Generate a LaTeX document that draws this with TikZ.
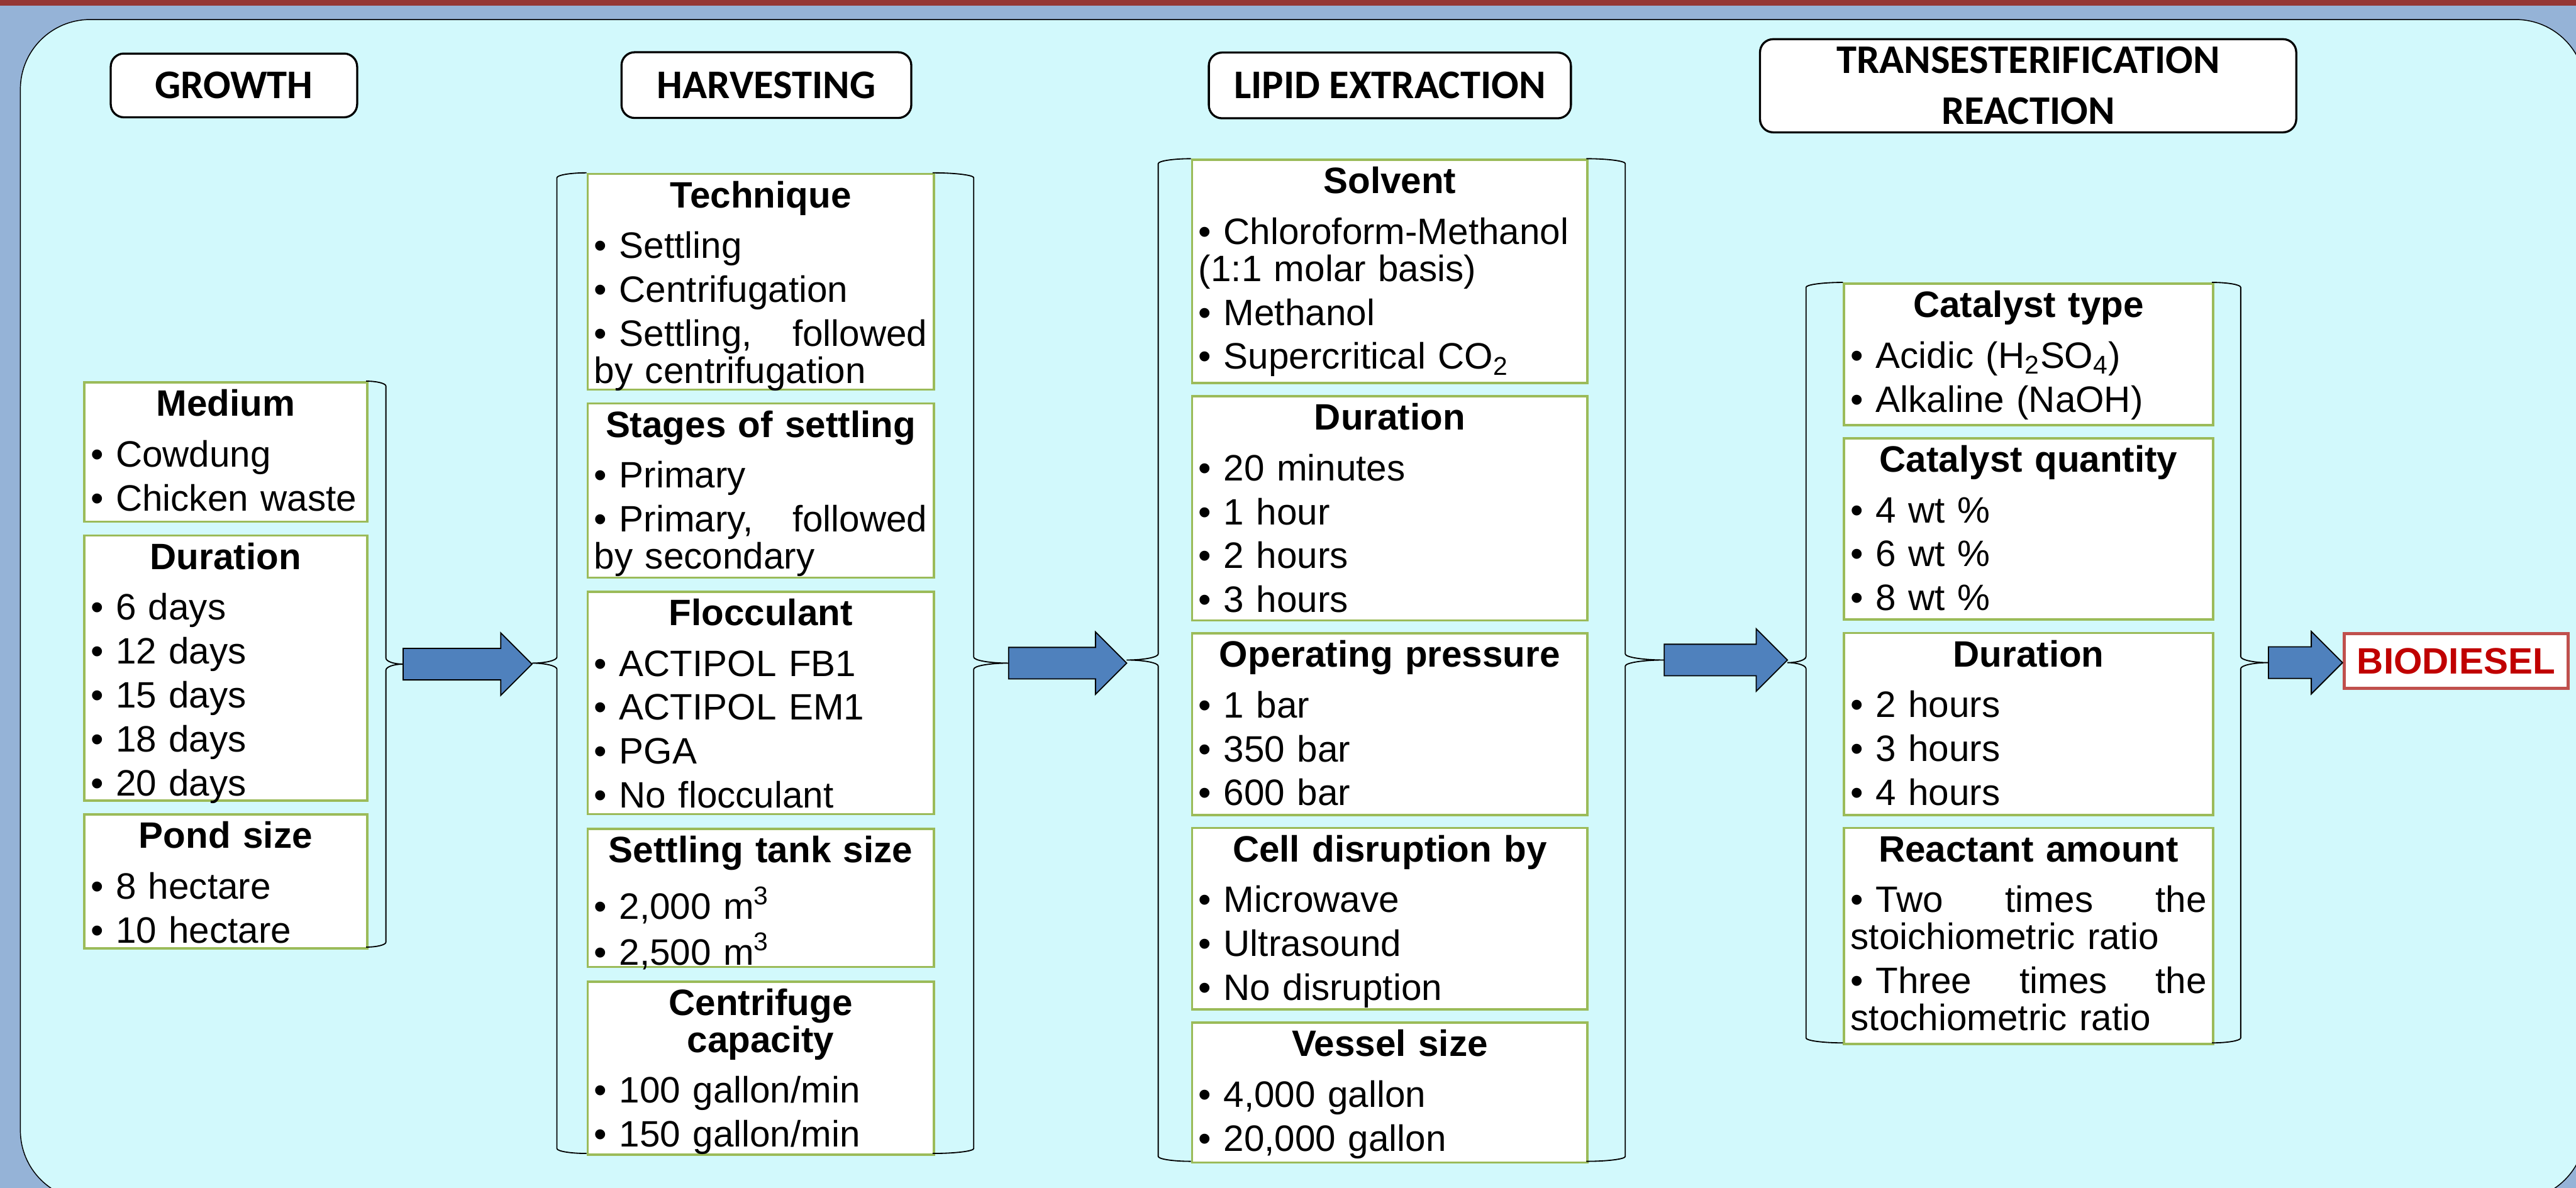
\documentclass[tikz,border=0pt]{standalone}
\usepackage{fontspec}
\setmainfont{Liberation Sans}
\newfontfamily\calibri{Carlito}
\usetikzlibrary{calc}
\definecolor{granate}{HTML}{953735}
\definecolor{azulfondo}{HTML}{95B3D7}
\definecolor{cian}{HTML}{D2F9FC}
\definecolor{verde}{HTML}{9BBB59}
\definecolor{azulflecha}{HTML}{4F81BD}
\definecolor{rojoborde}{HTML}{C0504D}
\definecolor{rojotexto}{HTML}{C00000}
\newcommand{\cuerpo}{\fontsize{15.9}{16}\selectfont}
\newcommand{\cabecera}{\calibri\bfseries\fontsize{17.6}{22}\selectfont}
\newcommand{\tit}[1]{\makebox[\linewidth]{\bfseries #1}}
% block arrow from coordinate #1 to the x of #2
\newcommand{\flecha}[2]{%
  \draw[bloque] ($(#1)+(0,-9.6)$) -- ($(#2|-#1)+(-19,-9.6)$) -- ($(#2|-#1)+(-19,-19)$) -- (#2|-#1)
    -- ($(#2|-#1)+(-19,19)$) -- ($(#2|-#1)+(-19,9.6)$) -- ($(#1)+(0,9.6)$) -- cycle;}
% brace: box edge x, line x, tip x, top y, bottom y, tip name
\newcommand{\llave}[6]{%
  \coordinate (#6) at (#3,{(#4+#5)/2});
  \draw[trazo] (#1,#4) .. controls ({#2+0.45*(#1-#2)},#4) and (#2,{#4+1.4}) .. (#2,{#4+3})
    -- (#2,{(#4+#5)/2-3.7}) .. controls (#2,{(#4+#5)/2-1.7}) and ({#2+0.45*(#3-#2)},{(#4+#5)/2}) .. (#6)
    .. controls ({#2+0.45*(#3-#2)},{(#4+#5)/2}) and (#2,{(#4+#5)/2+1.7}) .. (#2,{(#4+#5)/2+3.7})
    -- (#2,{#5-3}) .. controls (#2,{#5-1.4}) and ({#2+0.45*(#1-#2)},#5) .. (#1,#5);}
\tikzset{
  fase/.style={rectangle, rounded corners=2mm, draw=black, line width=0.9pt, fill=white,
               font=\cabecera, align=center},
  caja/.style={rectangle, anchor=north west, draw=verde, line width=1pt, fill=white, font=\cuerpo,
               align=left, inner xsep=1mm, inner ysep=0pt, text height=5.125mm},
  cajacre/.style={caja, text width=41.075mm},
  cajacos/.style={caja, text width=50.675mm},
  cajaext/.style={caja, text width=58.175mm},
  cajatra/.style={caja, text width=54.15mm},
  producto/.style={rectangle, draw=rojoborde, line width=1.3pt, fill=white, text=rojotexto,
                   font=\cuerpo\bfseries},
  trazo/.style={draw=black, line width=0.5pt},
  bloque/.style={fill=azulflecha, draw=black, line width=0.5pt, line join=miter}
}

\begin{document}
\begin{tikzpicture}[x=0.25mm, y=-0.25mm]
  \useasboundingbox (0,0) rectangle (1568,723);
  \fill[azulfondo] (0,0) rectangle (1568,723);
  \fill[granate] (0,0) rectangle (1568,3.4);
  \draw[fill=cian, line width=0.4pt, rounded corners=10.6mm] (12.4,11.9) rectangle (1573.7,730.5);

  \node (crec) [fase, minimum width=37.5mm, minimum height=9.7mm] at (142.4,52) {GROWTH};
  \node (cose) [fase, minimum width=44.1mm, minimum height=10mm] at (466.5,51.8) {HARVESTING};
  \node (extr) [fase, minimum width=55.1mm, minimum height=10mm] at (846,52) {LIPID EXTRACTION};
  \node (tran) [fase, minimum width=81.6mm, minimum height=14mm] at (1234.5,52.2) {TRANSESTERIFICATION\\REACTION};

  \node (medio) [cajacre, text depth=16.075mm] at (50.5,232) {\tit{Medium}\\[6pt] • Cowdung\\[3pt] • Chicken waste};
  \node (durcre) [cajacre, text depth=35.175mm] at (50.5,325.3) {\tit{Duration}\\[6pt] • 6 days\\[3pt] • 12 days\\[3pt] • 15 days\\[3pt] • 18 days\\[3pt] • 20 days};
  \node (estanque) [cajacre, text depth=15.25mm] at (50.5,495) {\tit{Pond size}\\[6pt] • 8 hectare\\[3pt] • 10 hectare};

  \node (tecnica) [cajacos, text depth=27.675mm] at (357,105.2) {\tit{Technique}\\[6pt] • Settling\\[3pt] • Centrifugation\\[3pt] • Settling,\hfill followed\\ by centrifugation};
  \node (etapas) [cajacos, text depth=21.375mm] at (357,244.9) {\tit{Stages of settling}\\[6pt] • Primary\\[3pt] • Primary,\hfill followed\\ by secondary};
  \node (floculante) [cajacos, text depth=28.725mm] at (357,359.4) {\tit{Flocculant}\\[6pt] • ACTIPOL FB1\\[3pt] • ACTIPOL EM1\\[3pt] • PGA\\[3pt] • No flocculant};
  \node (tanque) [cajacos, text depth=15.9mm] at (357,503.8) {\tit{Settling tank size}\\[6pt] • 2,000 m\textsuperscript{3}\\[3pt] • 2,500 m\textsuperscript{3}};
  \node (centrifuga) [cajacos, text depth=21.2mm] at (357,596.8) {\tit{Centrifuge}\\ \tit{capacity}\\[6pt] • 100 gallon/min\\[3pt] • 150 gallon/min};

  \node (solvente) [cajaext, text depth=28.825mm] at (724.9,96.6) {\tit{Solvent}\\[6pt] • Chloroform-Methanol\\ (1:1 molar basis)\\[3pt] • Methanol\\[3pt] • Supercritical CO\textsubscript{2}};
  \node (durext) [cajaext, text depth=28.975mm] at (724.9,240.5) {\tit{Duration}\\[6pt] • 20 minutes\\[3pt] • 1 hour\\[3pt] • 2 hours\\[3pt] • 3 hours};
  \node (presion) [cajaext, text depth=22.5mm] at (724.9,384.8) {\tit{Operating pressure}\\[6pt] • 1 bar\\[3pt] • 350 bar\\[3pt] • 600 bar};
  \node (ruptura) [cajaext, text depth=22.475mm] at (724.9,503.3) {\tit{Cell disruption by}\\[6pt] • Microwave\\[3pt] • Ultrasound\\[3pt] • No disruption};
  \node (recipiente) [cajaext, text depth=16.175mm] at (724.9,621.7) {\tit{Vessel size}\\[6pt] • 4,000 gallon\\[3pt] • 20,000 gallon};

  \node (cattipo) [cajatra, text depth=16.4mm] at (1121.8,171.9) {\tit{Catalyst type}\\[6pt] • Acidic (H\textsubscript{2}SO\textsubscript{4})\\[3pt] • Alkaline (NaOH)};
  \node (catcant) [cajatra, text depth=22.475mm] at (1121.8,266) {\tit{Catalyst quantity}\\[6pt] • 4 wt \%\\[3pt] • 6 wt \%\\[3pt] • 8 wt \%};
  \node (durreac) [cajatra, text depth=22.55mm] at (1121.8,384.6) {\tit{Duration}\\[6pt] • 2 hours\\[3pt] • 3 hours\\[3pt] • 4 hours};
  \node (reactivo) [cajatra, text depth=27.75mm] at (1121.8,503.3) {\tit{Reactant amount}\\[6pt] • Two\hfill times\hfill the\\ stoichiometric ratio\\[3pt] • Three\hfill times\hfill the\\ stochiometric ratio};

  \node (bio) [producto, minimum width=34.1mm, minimum height=8.3mm] at (1495,402.4) {BIODIESEL};

  \llave{222.8}{234.9}{245.4}{232}{576.5}{gsal}
  \llave{357}{339}{323.8}{105.2}{702.1}{cent}
  \llave{567.7}{592.7}{613.9}{105.2}{702.1}{csal}
  \llave{724.9}{705}{685.8}{96.6}{706.9}{eent}
  \llave{965.6}{989.3}{1013}{96.6}{706.9}{esal}
  \llave{1121.8}{1099.3}{1088}{171.9}{634.8}{tent}
  \llave{1346.4}{1363.9}{1380.8}{171.9}{634.8}{tsal}

  \flecha{gsal}{cent}
  \flecha{csal}{eent}
  \flecha{esal}{tent}
  \flecha{tsal}{bio.west}
\end{tikzpicture}
\end{document}
